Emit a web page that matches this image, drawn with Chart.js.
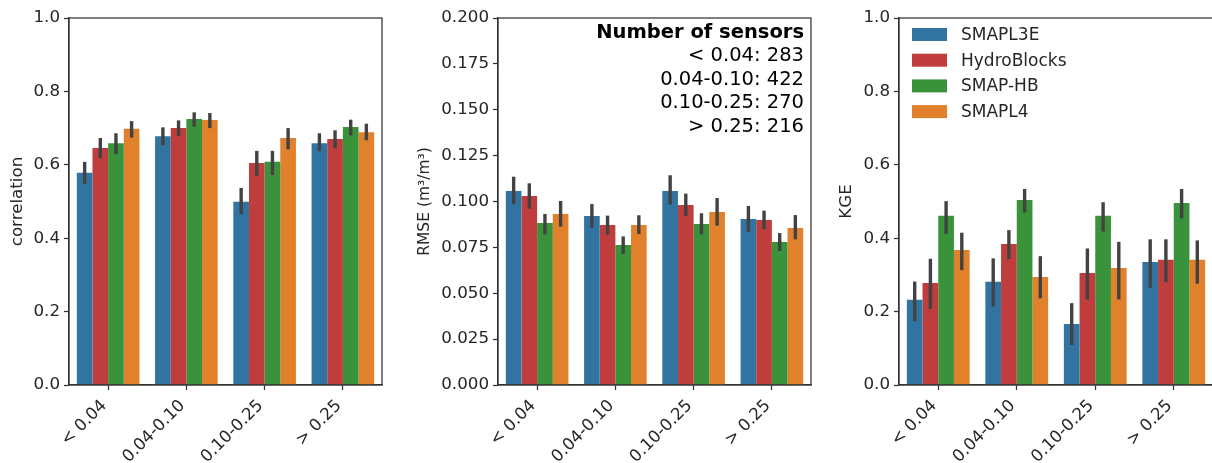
<!DOCTYPE html>
<html>
<head>
<meta charset="utf-8">
<script src="https://cdn.jsdelivr.net/npm/chart.js@4/dist/chart.umd.min.js"></script>
<style>
  html, body { margin: 0; padding: 0; background: #fff; overflow: hidden; }
  #wrap { position: relative; width: 1212px; height: 463px; overflow: hidden; }
  .panel { position: absolute; top: 0; height: 463px; }
</style>
</head>
<body>
<div id="wrap">
  <div class="panel" style="left:0"><canvas id="corrChart" width="400" height="463"></canvas></div>
  <div class="panel" style="left:400px"><canvas id="rmseChart" width="420" height="463"></canvas></div>
  <div class="panel" style="left:820px"><canvas id="kgeChart" width="400" height="463"></canvas></div>
</div>
<script>
// bins of soil moisture variability, one group of bars each
const categories = ['< 0.04', '0.04-0.10', '0.10-0.25', '> 0.25'];
const products = ['SMAPL3E', 'HydroBlocks', 'SMAP-HB', 'SMAPL4'];
const colors = ['#3274a1', '#c03d3e', '#3a923a', '#e1812c'];
const sensorCounts = [283, 422, 270, 216];

// correlation: mean, low and high of the error bar
const corrMean = [
  [0.578, 0.678, 0.499, 0.659],
  [0.646, 0.700, 0.605, 0.670],
  [0.659, 0.725, 0.608, 0.703],
  [0.698, 0.722, 0.673, 0.689]
];
const corrLo = [
  [0.548, 0.653, 0.465, 0.637],
  [0.618, 0.678, 0.570, 0.645],
  [0.629, 0.704, 0.572, 0.680],
  [0.674, 0.700, 0.642, 0.667]
];
const corrHi = [
  [0.608, 0.702, 0.537, 0.686],
  [0.673, 0.721, 0.638, 0.694],
  [0.686, 0.743, 0.638, 0.723],
  [0.719, 0.741, 0.700, 0.712]
];

// RMSE (m3/m3)
const rmseMean = [
  [0.1057, 0.0921, 0.1057, 0.0905],
  [0.1030, 0.0872, 0.0981, 0.0899],
  [0.0883, 0.0763, 0.0877, 0.0779],
  [0.0932, 0.0872, 0.0943, 0.0856]
];
const rmseLo = [
  [0.0985, 0.0857, 0.0983, 0.0835],
  [0.0961, 0.0819, 0.0921, 0.0849],
  [0.0821, 0.0714, 0.0821, 0.0730],
  [0.0863, 0.0823, 0.0868, 0.0794]
];
const rmseHi = [
  [0.1135, 0.0986, 0.1143, 0.0976],
  [0.1099, 0.0923, 0.1043, 0.0950],
  [0.0932, 0.0810, 0.0936, 0.0828],
  [0.1003, 0.0925, 0.1019, 0.0926]
];

// KGE
const kgeMean = [
  [0.232, 0.281, 0.166, 0.335],
  [0.278, 0.384, 0.305, 0.341],
  [0.461, 0.504, 0.461, 0.496],
  [0.368, 0.294, 0.319, 0.341]
];
const kgeLo = [
  [0.174, 0.214, 0.109, 0.265],
  [0.207, 0.343, 0.233, 0.280],
  [0.412, 0.470, 0.418, 0.454],
  [0.313, 0.236, 0.233, 0.276]
];
const kgeHi = [
  [0.282, 0.345, 0.223, 0.397],
  [0.344, 0.422, 0.372, 0.397],
  [0.501, 0.534, 0.498, 0.534],
  [0.415, 0.351, 0.390, 0.394]
];

const FONT = 'DejaVu Sans';
const TEXT = '#262626';
const AXIS = '#333333';

// vertical CI lines on top of each bar
const errorBars = {
  id: 'errorBars',
  afterDatasetsDraw(chart) {
    const ctx = chart.ctx;
    const y = chart.scales.y;
    ctx.save();
    ctx.strokeStyle = '#424242';
    ctx.lineWidth = 3.4;
    chart.data.datasets.forEach((ds, i) => {
      chart.getDatasetMeta(i).data.forEach((bar, j) => {
        ctx.beginPath();
        ctx.moveTo(bar.x, y.getPixelForValue(ds.errLo[j]));
        ctx.lineTo(bar.x, y.getPixelForValue(ds.errHi[j]));
        ctx.stroke();
      });
    });
    ctx.restore();
  }
};

// top and right spines
const frame = {
  id: 'frame',
  afterDraw(chart) {
    const {left, top, right, bottom} = chart.chartArea;
    const ctx = chart.ctx;
    ctx.save();
    ctx.strokeStyle = AXIS;
    ctx.lineWidth = 1.25;
    ctx.strokeRect(left, top, right - left, bottom - top);
    ctx.restore();
  }
};

const sensorNote = {
  id: 'sensorNote',
  afterDraw(chart) {
    const {top, right} = chart.chartArea;
    const ctx = chart.ctx;
    ctx.save();
    ctx.fillStyle = '#000';
    ctx.textAlign = 'right';
    ctx.textBaseline = 'middle';
    const x = right - 7;
    ctx.font = `bold 19.5px "${FONT}"`;
    ctx.fillText('Number of sensors', x, top + 15);
    ctx.font = `19.5px "${FONT}"`;
    categories.forEach((c, i) => {
      ctx.fillText(`${c}: ${sensorCounts[i]}`, x, top + 15 + (i + 1) * 23.4);
    });
    ctx.restore();
  }
};

const boxLegend = {
  id: 'boxLegend',
  afterDraw(chart) {
    const {left, top} = chart.chartArea;
    const ctx = chart.ctx;
    ctx.save();
    ctx.font = `17px "${FONT}"`;
    ctx.textBaseline = 'middle';
    ctx.textAlign = 'left';
    chart.data.datasets.forEach((ds, i) => {
      const cy = top + 16.5 + i * 25.7;
      ctx.fillStyle = ds.backgroundColor;
      ctx.fillRect(left + 13, cy - 6.5, 35, 13);
      ctx.fillStyle = TEXT;
      ctx.fillText(ds.label, left + 62, cy + 1);
    });
    ctx.restore();
  }
};

function makeDatasets(mean, lo, hi) {
  return products.map((p, i) => ({
    label: p,
    data: mean[i],
    errLo: lo[i],
    errHi: hi[i],
    backgroundColor: colors[i],
    borderWidth: 0,
    categoryPercentage: 0.8,
    barPercentage: 1.0
  }));
}

function makeChart(id, cfg) {
  const gridOpts = {
    display: true,
    drawOnChartArea: false,
    drawTicks: true,
    tickLength: 5,
    tickColor: AXIS,
    tickWidth: 1.25
  };
  return new Chart(document.getElementById(id), {
    type: 'bar',
    data: { labels: categories, datasets: makeDatasets(cfg.mean, cfg.lo, cfg.hi) },
    plugins: [errorBars, frame].concat(cfg.extra || []),
    options: {
      responsive: false,
      animation: false,
      layout: { padding: { top: 18, right: cfg.padRight, bottom: 0, left: 0 } },
      plugins: { legend: { display: false }, tooltip: { enabled: false } },
      scales: {
        x: {
          grid: Object.assign({ offset: false }, gridOpts),
          border: { display: true, color: AXIS, width: 1.25 },
          ticks: {
            color: TEXT, font: { family: FONT, size: 16.7 },
            minRotation: 45, maxRotation: 45, padding: 6, autoSkip: false,
            labelOffset: -4
          },
          afterFit: (s) => { s.height = 78; }
        },
        y: {
          min: 0,
          max: cfg.max,
          grid: gridOpts,
          border: { display: true, color: AXIS, width: 1.25 },
          ticks: {
            stepSize: cfg.step, color: TEXT, padding: 4,
            font: { family: FONT, size: 16.7 },
            callback: (v) => v.toFixed(cfg.digits)
          },
          title: {
            display: true, text: cfg.title, color: TEXT,
            font: { family: FONT, size: cfg.titleSize, lineHeight: 1.2 },
            padding: { top: cfg.titlePad, bottom: 0 }
          },
          afterFit: (s) => { s.width = cfg.axisWidth; }
        }
      }
    }
  });
}

makeChart('corrChart', {
  mean: corrMean, lo: corrLo, hi: corrHi,
  max: 1.0, step: 0.2, digits: 1,
  title: 'correlation', titleSize: 16.7, titlePad: 7.5,
  axisWidth: 69, padRight: 18
});

makeChart('rmseChart', {
  mean: rmseMean, lo: rmseLo, hi: rmseHi,
  max: 0.2, step: 0.025, digits: 3,
  title: 'RMSE (m³/m³)', titleSize: 15.5, titlePad: 15.7,
  axisWidth: 98, padRight: 9,
  extra: [sensorNote]
});

makeChart('kgeChart', {
  mean: kgeMean, lo: kgeLo, hi: kgeHi,
  max: 1.0, step: 0.2, digits: 1,
  title: 'KGE', titleSize: 16.7, titlePad: 17,
  axisWidth: 79, padRight: 7,
  extra: [boxLegend]
});
</script>
</body>
</html>
